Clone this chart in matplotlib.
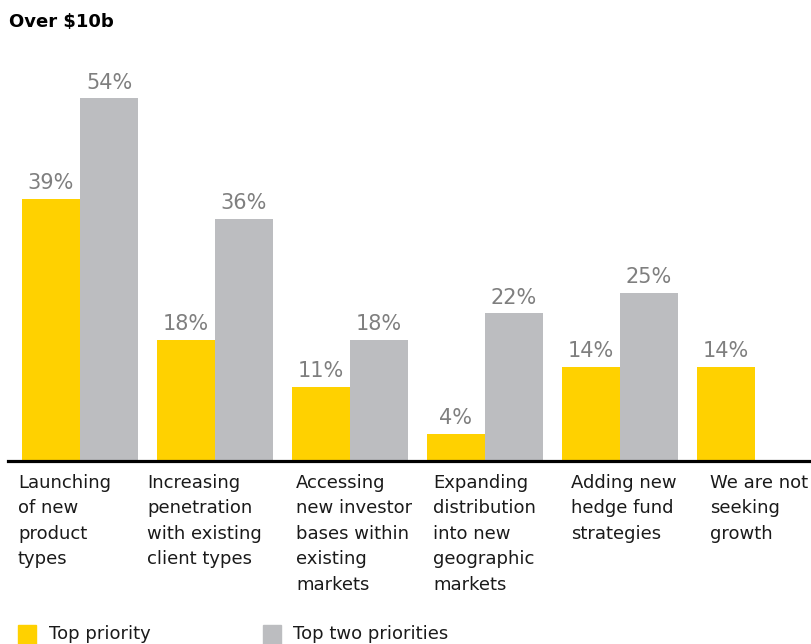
import numpy as np
import matplotlib
matplotlib.use("Agg")
import matplotlib.pyplot as plt
import matplotlib.transforms as mtransforms
from matplotlib.patches import Rectangle

# datos del grafico
categorias = [
    "Launching\nof new\nproduct\ntypes",
    "Increasing\npenetration\nwith existing\nclient types",
    "Accessing\nnew investor\nbases within\nexisting\nmarkets",
    "Expanding\ndistribution\ninto new\ngeographic\nmarkets",
    "Adding new\nhedge fund\nstrategies",
    "We are not\nseeking\ngrowth",
]
top_priority = [39, 18, 11, 4, 14, 14]
top_two = [54, 36, 18, 22, 25, np.nan]
series_names = ["Top priority", "Top two priorities"]
titulo = "Over $10b"

YELLOW = "#FFD100"
GREY = "#BCBDC0"
LABEL_GREY = "#7F7F7F"

W, H = 811, 644
fig = plt.figure(figsize=(W / 100, H / 100), dpi=100)
ax = fig.add_axes([8 / W, (H - 461) / H, 803 / W, (461 - 58) / H])

x = np.arange(len(categorias))
bw = 0.43
ax.bar(x - bw / 2, top_priority, bw, color=YELLOW)
ax.bar(x + bw / 2, top_two, bw, color=GREY)

for xi, v in zip(x - bw / 2, top_priority):
    ax.annotate(f"{v}%", (xi, v), xytext=(0, 7.5), textcoords="offset points",
                ha="center", va="baseline", fontsize=15, color=LABEL_GREY)
for xi, v in zip(x + bw / 2, top_two):
    if np.isnan(v):
        continue
    ax.annotate(f"{v:.0f}%", (xi, v), xytext=(0, 7), textcoords="offset points",
                ha="center", va="baseline", fontsize=15, color=LABEL_GREY)

ax.set_xlim(-72 / 135, 731 / 135)
ax.set_ylim(0, 60)
ax.axhline(0, color="black", lw=2.3, clip_on=False)
for s in ax.spines.values():
    s.set_visible(False)
ax.set_xticks([])
ax.set_yticks([])

# etiquetas de categorias debajo del eje
trans = mtransforms.blended_transform_factory(ax.transData, fig.transFigure)
desp_px = [-4, -10, 4, 6, 9, 13]
for i, (lab, d) in enumerate(zip(categorias, desp_px)):
    ax.text(i - bw + d / 135, (H - 474) / H, lab, transform=trans,
            ha="left", va="top", fontsize=13, color="#1a1a1a", linespacing=1.53)

fig.text(9 / W, (H - 27) / H, titulo, fontsize=13, fontweight="bold",
         ha="left", va="baseline")

# leyenda
for (x0, xt), nombre, col in zip([(18, 49), (263, 293)], series_names, [YELLOW, GREY]):
    fig.patches.append(Rectangle((x0 / W, 0), 18 / W, 19 / H, transform=fig.transFigure,
                                 color=col, figure=fig))
    fig.text(xt / W, (H - 634) / H, nombre, fontsize=13, color="#1a1a1a",
             ha="left", va="center")

fig.savefig("out.png", dpi=100)
